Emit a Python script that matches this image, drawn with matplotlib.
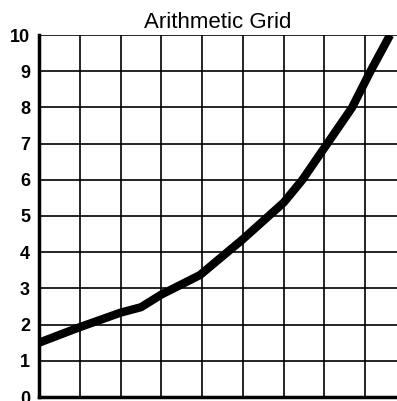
import matplotlib
matplotlib.use("Agg")
import matplotlib.pyplot as plt

# curve (x in grid columns, y in units)
x_vals = [0, 1, 2, 2.5, 3, 3.95, 5, 6, 6.46, 7.07, 7.68, 8.13, 8.61]
y_vals = [1.5, 1.93, 2.33, 2.48, 2.83, 3.37, 4.36, 5.37, 6.0, 7.0, 8.0, 9.0, 10.0]
y_ticks = list(range(0, 11))
x_grid = list(range(0, 9))

plt.rcParams['font.family'] = ['Liberation Sans', 'DejaVu Sans']

fig = plt.figure(figsize=(3.97, 4.01), dpi=100)
ax = fig.add_axes([39/397, 4/401, 1 - 39/397, 362/401])

# grid lines
for gx in x_grid:
    ax.axvline(gx, color='black', linewidth=1.2, zorder=1)
for gy in y_ticks:
    ax.axhline(gy, color='black', linewidth=1.2, zorder=1)

ax.plot(x_vals, y_vals, color='black', linewidth=6, solid_capstyle='butt',
        solid_joinstyle='round', zorder=3)

ax.set_xlim(0, 8.78)
ax.set_ylim(0, 10)
ax.set_xticks([])
ax.set_yticks(y_ticks)
ax.set_yticklabels([str(v) for v in y_ticks], fontweight='bold', fontsize=13)
ax.tick_params(axis='y', length=0, pad=6.5)

for side in ['top', 'right']:
    ax.spines[side].set_visible(False)
ax.spines['left'].set_linewidth(2.5)
ax.spines['bottom'].set_linewidth(2.5)

ax.set_title("Arithmetic Grid", fontsize=16, pad=5)

fig.savefig("out.png", dpi=100)
